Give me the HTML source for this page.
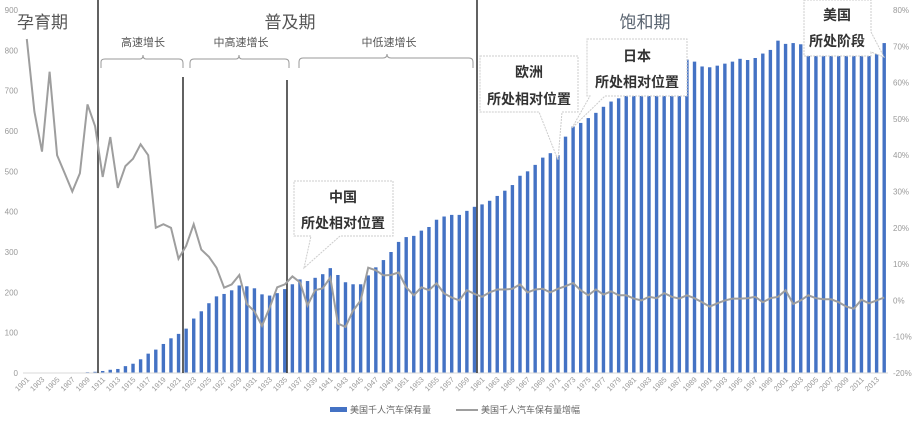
<!DOCTYPE html>
<html><head><meta charset="utf-8">
<style>
body{margin:0;background:#fff;}
svg{display:block;font-family:"Liberation Sans","Noto Sans CJK SC",sans-serif;}
</style></head>
<body>
<svg id="chart" width="918" height="425" viewBox="0 0 918 425" xmlns="http://www.w3.org/2000/svg">
<g id="bars"></g>
<g id="ticks"></g>
<line x1="23" y1="373" x2="888" y2="373" stroke="#d9d9d9" stroke-width="1"/>
<g stroke="#3a3a3a" stroke-width="1.6">
<line x1="98" y1="0" x2="98" y2="373"/>
<line x1="183" y1="77" x2="183" y2="373"/>
<line x1="287" y1="80" x2="287" y2="373"/>
<line x1="477" y1="0" x2="477" y2="373"/>
</g>
<path id="growth" fill="none" stroke="#9e9e9e" stroke-width="2"/>
<g font-size="17" fill="#555">
<text x="17" y="28">孕育期</text>
<text x="290" y="28" text-anchor="middle">普及期</text>
<text x="645" y="28" text-anchor="middle" fill="#5a6470">饱和期</text>
</g>
<g font-size="11" fill="#555" text-anchor="middle">
<text x="143" y="46">高速增长</text>
<text x="241" y="46">中高速增长</text>
<text x="389" y="46">中低速增长</text>
</g>
<g fill="none" stroke="#999" stroke-width="1">
<path d="M101 68 V62 Q101 59 105 59 H140 Q143 59 143 55 Q143 59 146 59 H179 Q183 59 183 63 V68"/>
<path d="M190 68 V63 Q190 59 194 59 H236 Q239 59 239 55 Q239 59 242 59 H285 Q289 59 289 63 V68"/>
<path d="M299 68 V62 Q299 58 303 58 H383 Q387 58 387 54 Q387 58 391 58 H469 Q473 58 473 62 V68"/>
</g>
<g font-weight="bold" fill="#333" text-anchor="middle">
<g>
<path d="M294 181 H393 V236 H340 L304 268 L311 236 H294 Z" fill="#fff" stroke="#ccc" stroke-dasharray="2,1"/>
<text x="343" y="202" font-size="14">中国</text>
<text x="343" y="228" font-size="14">所处相对位置</text>
</g>
<g>
<path d="M480 56 H578 V112 H562 L558 160 L539 112 H480 Z" fill="#fff" stroke="#ccc" stroke-dasharray="2,1"/>
<text x="529" y="77" font-size="14">欧洲</text>
<text x="529" y="104" font-size="14">所处相对位置</text>
</g>
<g>
<path d="M587 39 H687 V96 H605 L572 128 L590 96 H587 Z" fill="#fff" stroke="#ccc" stroke-dasharray="2,1"/>
<text x="637" y="61" font-size="14">日本</text>
<text x="637" y="87" font-size="14">所处相对位置</text>
</g>
<g>
<path d="M804 0 H871 V32 L884 57 L871 52 V56 H804 Z" fill="#fff" stroke="#ccc" stroke-dasharray="2,1"/>
<text x="837" y="20" font-size="14">美国</text>
<text x="837" y="46" font-size="14">所处阶段</text>
</g>
</g>
<g font-size="9" fill="#666">
<rect x="330" y="407" width="17" height="5" fill="#4472c4"/>
<text x="350" y="413">美国千人汽车保有量</text>
<line x1="456" y1="410" x2="478" y2="410" stroke="#9e9e9e" stroke-width="2"/>
<text x="481" y="413">美国千人汽车保有量增幅</text>
</g>
</svg>
<script>
const years = [];
for (let y = 1901; y <= 2014; y++) years.push(y);
const ownership = [0,0,0,0,0,0,0,0,2,3,5,8,10,17,23,34,48,58,72,86,97,110,135,153,173,190,196,205,217,215,210,195,192,198,208,220,232,228,236,245,260,243,225,220,220,242,262,280,300,325,337,340,353,362,380,388,392,392,402,412,418,427,439,452,466,489,500,516,534,545,540,586,611,620,632,645,660,673,681,690,700,705,715,730,745,760,772,777,772,760,758,762,767,772,779,776,781,792,801,824,816,818,815,815,815,815,815,812,808,805,806,800,800,818];
const growth = [72,52,41,63,40,35,30,35,54,48,34,45,31,37,39,43,40,20,21,20,11.5,15,21,14,12,9,3.5,4.4,7,-1,-3,-7,-2,3.6,4.4,6.6,5,-1.4,2.8,3.3,6.3,-6.4,-7.3,-2.8,0,9,8.3,6.9,7,7.7,3.6,1.4,3.6,2.8,4.7,1.9,0.8,0,2.8,1.8,1,2.2,3,3,3.2,4.4,2.2,3,3.2,2.2,3.2,3.9,4.8,2.8,1.4,3,1.6,2.5,1.4,1.4,0.5,0,1,0.6,2,1,0.5,1.4,0.6,-0.5,-1.7,-0.8,0,0.5,0.5,0.6,1,-0.5,0.6,1,2.8,-1,0,1.4,0.6,0.3,0.3,-0.5,-1.7,-2.3,0.2,-0.8,0,0.8];
const leftTicks = [0,100,200,300,400,500,600,700,800,900];
const rightTicks = [-20,-10,0,10,20,30,40,50,60,70,80];

const NS = "http://www.w3.org/2000/svg";
const X0 = 23, X1 = 888, Y0 = 373, Y1 = 10;
const band = (X1 - X0) / years.length;
const xC = i => X0 + band * (i + 0.5);
const yL = v => Y0 - (v / 900) * (Y0 - Y1);
const yR = v => Y0 - ((v + 20) / 100) * (Y0 - Y1);

const bars = document.getElementById('bars');
ownership.forEach((v, i) => {
  const r = document.createElementNS(NS, 'rect');
  
  
  r.setAttribute('x', xC(i) - 1.7);
  r.setAttribute('y', yL(v));
  r.setAttribute('width', 3.4);
  r.setAttribute('height', Math.max(0, Y0 - yL(v)));
  r.setAttribute('fill', '#4472c4');
  bars.appendChild(r);
});

let d = '';
growth.forEach((v, i) => { d += (i ? 'L' : 'M') + xC(i).toFixed(1) + ' ' + yR(v).toFixed(1); });
document.getElementById('growth').setAttribute('d', d);

const ticks = document.getElementById('ticks');
leftTicks.forEach(v => {
  const t = document.createElementNS(NS, 'text');
  
  
  t.setAttribute('x', 18); t.setAttribute('y', yL(v) + 3);
  t.setAttribute('text-anchor', 'end'); t.setAttribute('font-size', '8'); t.setAttribute('fill', '#999');
  t.textContent = v;
  ticks.appendChild(t);
});
rightTicks.forEach(v => {
  const t = document.createElementNS(NS, 'text');
  
  
  t.setAttribute('x', 893); t.setAttribute('y', yR(v) + 3);
  t.setAttribute('font-size', '8'); t.setAttribute('fill', '#999');
  t.textContent = v + '%';
  ticks.appendChild(t);
});
years.forEach((y, i) => {
  if (i % 2) return;
  const t = document.createElementNS(NS, 'text');
  
  
  const x = xC(i) + 3, yy = 380;
  t.setAttribute('x', x); t.setAttribute('y', yy);
  t.setAttribute('text-anchor', 'end'); t.setAttribute('font-size', '7.5'); t.setAttribute('fill', '#999');
  t.setAttribute('transform', 'rotate(-45 ' + x + ' ' + yy + ')');
  t.textContent = y;
  ticks.appendChild(t);
});
</script>
</body></html>
